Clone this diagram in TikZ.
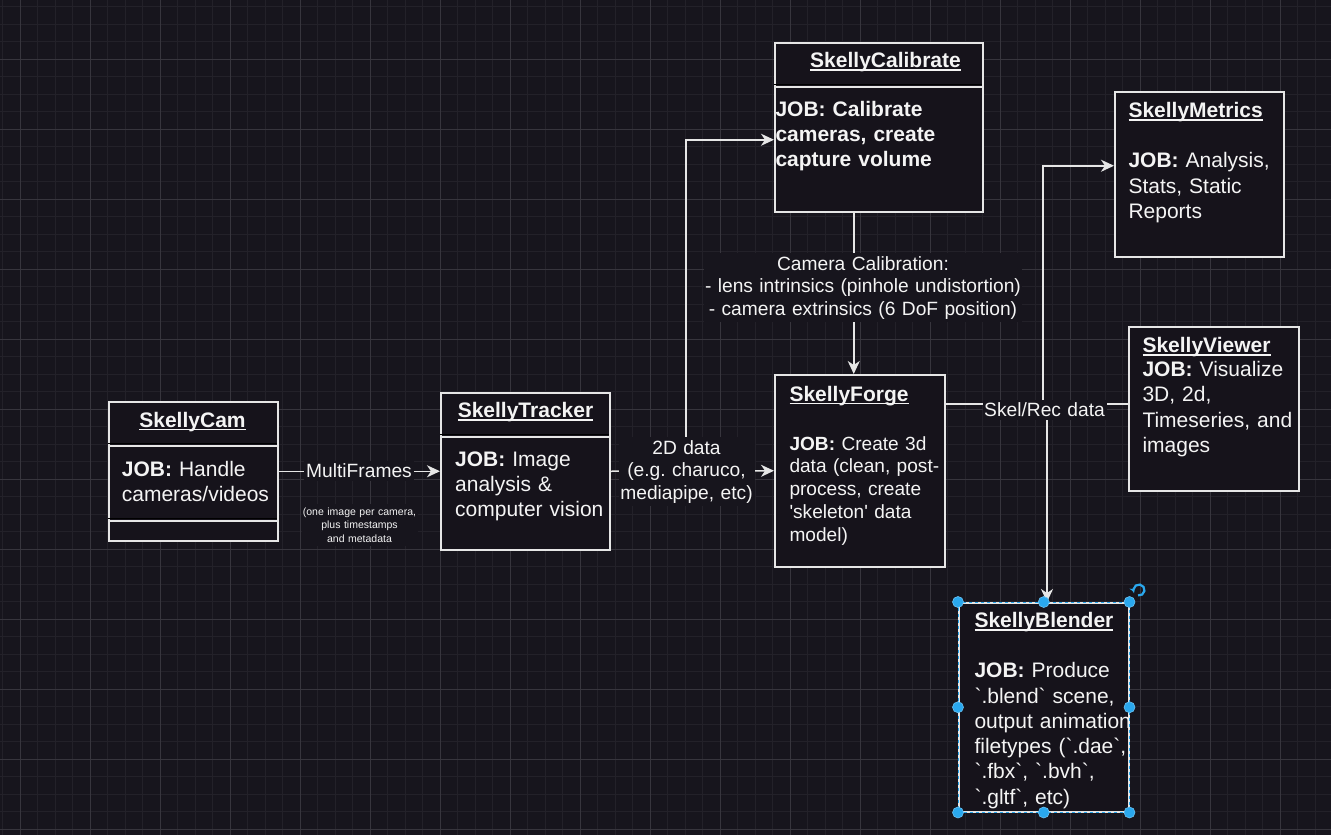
\documentclass[tikz,border=0pt]{standalone}
\usepackage{fontspec}
\setmainfont{Liberation Sans}
\usetikzlibrary{arrows.meta}
\frenchspacing
\definecolor{bgc}{HTML}{17151D}
\definecolor{boxfill}{HTML}{16131B}
\definecolor{gminorc}{HTML}{232129}
\definecolor{gmajorc}{HTML}{37353D}
\definecolor{edgec}{HTML}{E6E6E6}
\definecolor{txtc}{HTML}{F4F4F4}
\definecolor{selc}{HTML}{2AA8EE}
\newsavebox\ulbox
\newcommand\myul[1]{\sbox\ulbox{#1}\rlap{\rule[-3pt]{\wd\ulbox}{1.4pt}}\usebox\ulbox}
\newcommand\gq{\textasciigrave}
\newcommand\sq{\textquotesingle}
\tikzset{
  gminor/.style={draw=gminorc, line width=1pt},
  gmajor/.style={draw=gmajorc, line width=1pt},
  box/.style={draw=edgec, fill=boxfill, line width=1.5pt, anchor=north west, inner sep=0pt},
  divdark/.style={draw=black, line width=1.2pt},
  divlight/.style={draw=edgec, line width=1.5pt},
  conn/.style={draw=edgec, line width=1.5pt, -{Stealth[length=13pt,width=12pt,inset=4pt]}},
  plainline/.style={draw=edgec, line width=1.5pt},
  ttl/.style={font=\bfseries\fontsize{21}{25.3}\selectfont, text=txtc, inner sep=0pt},
  bodytxt/.style={font=\fontsize{21}{25.3}\selectfont, text=txtc, inner sep=0pt, text width=200pt, align=left, anchor=base west},
  forgetxt/.style={font=\fontsize{19.1}{22.9}\selectfont, text=txtc, inner sep=0pt, text width=200pt, align=left, anchor=base west},
  lab/.style={font=\fontsize{19.2}{22.7}\selectfont, text=txtc, fill=bgc, align=center, inner xsep=0pt, inner ysep=3pt, anchor=base},
  notelab/.style={font=\fontsize{10.5}{13.3}\selectfont, text=txtc, fill=bgc, align=center, inner xsep=0pt, inner ysep=4pt, anchor=base},
  handle/.style={fill=selc, draw=selc!70!white, line width=0.6pt},
}
\begin{document}
\begin{tikzpicture}[x=1pt,y=-1pt]
\useasboundingbox (0,0) rectangle (1331,835);
\fill[bgc] (0,0) rectangle (1331,835);
% grid
\foreach \i in {0,...,76} { \draw[gminor] ({2.5+17.5*\i},0) -- ++(0,835); }
\foreach \i in {0,...,47} { \draw[gminor] (0,{6.5+17.5*\i}) -- ++(1331,0); }
\foreach \i in {0,...,18} { \draw[gmajor] ({20+70*\i},0) -- ++(0,835); }
\foreach \i in {0,...,11} { \draw[gmajor] (0,{59+70*\i}) -- ++(1331,0); }

% boxes
\node[box, minimum width=169pt, minimum height=139pt] (cam) at (108,401) {};
\node[box, minimum width=169pt, minimum height=157pt] (tracker) at (440,392) {};
\node[box, minimum width=208pt, minimum height=169pt] (calib) at (774,42) {};
\node[box, minimum width=170pt, minimum height=192pt] (forge) at (774,374) {};
\node[box, minimum width=169pt, minimum height=165pt] (metrics) at (1114,91) {};
\node[box, minimum width=170pt, minimum height=164pt] (viewer) at (1128,326) {};
\node[box, minimum width=170pt, minimum height=209pt] (blender) at (958,602) {};

% dividers
\draw[divdark] (108,443.5) -- (277,443.5);
\draw[divlight] (108,446) -- (277,446);
\draw[divdark] (108,518.3) -- (277,518.3);
\draw[divlight] (108,520.8) -- (277,520.8);
\draw[divdark] (440,434.3) -- (609,434.3);
\draw[divlight] (440,437) -- (609,437);
\draw[divdark] (774,84.3) -- (982,84.3);
\draw[divlight] (774,87) -- (982,87);

% connector junctions
\coordinate (tdj) at (686,470);
\coordinate (ft) at ([xshift=-6pt]forge.north);
\coordinate (sk) at (1045,404);

% connectors
\draw[conn] (cam.east) -- (tracker.west);
\draw[conn] (tracker.east) -- (forge.west);
\draw[conn] (tdj) |- ([yshift=-12.5pt]calib.west);
\draw[conn] (calib.south -| ft) -- (ft);
\draw[plainline] (forge.east |- sk) -- (viewer.west |- sk);
\draw[conn] ([xshift=-2pt]sk) |- ([yshift=8.5pt]metrics.west);
\draw[conn] ([xshift=2pt]sk) -- ([xshift=2pt]sk |- blender.north);

% labels
\node[lab, text width=110pt] (mf) at (359,477.7) {MultiFrames};
\node[notelab, text width=116pt] (mfn) at (359.5,515.5) {(one image per camera,\\plus timestamps\\and metadata};
\node[lab, text width=136pt] (tdata) at (686.5,454) {2D data\\(e.g. charuco,\\mediapipe, etc)};
\node[lab, text width=318pt] (ccal) at (863,270) {Camera Calibration:\\- lens intrinsics (pinhole undistortion)\\- camera extrinsics (6 DoF position)};
\node[lab, text width=124pt] (skl) at (1044.5,416.7) {Skel/Rec data};

% titles
\node[ttl, anchor=base] (camt) at (192.5,427) {\myul{SkellyCam}};
\node[ttl, anchor=base] (trackert) at (525.5,417.7) {\myul{SkellyTracker}};
\node[ttl, anchor=base] (calibt) at (885.5,67.7) {\myul{SkellyCalibrate}};
\node[ttl, anchor=base west] (forget) at (789.3,401) {\myul{SkellyForge}};
\node[ttl, anchor=base west] (metricst) at (1128.3,117.7) {\myul{SkellyMetrics}};
\node[ttl, anchor=base west] (viewert) at (1142.3,352.5) {\myul{SkellyViewer}};
\node[ttl, anchor=base west] (blendert) at (974.3,627.7) {\myul{SkellyBlender}};

% bodies
\node[bodytxt] (camb) at (121.7,476) {\textbf{JOB:} Handle\\cameras/videos};
\node[bodytxt] (trackerb) at (455,466) {\textbf{JOB:} Image\\analysis \&\\computer vision};
\node[bodytxt, font=\bfseries\fontsize{21}{25.3}\selectfont] (calibb) at (775.3,116) {JOB: Calibrate\\cameras, create\\capture volume};
\node[forgetxt] (forgeb) at (789.3,450) {\textbf{JOB:} Create 3d\\data (clean, post-\\process, create\\\sq skeleton\sq{} data\\model)};
\node[bodytxt] (metricsb) at (1128.3,167.7) {\textbf{JOB:} Analysis,\\Stats, Static\\Reports};
\node[bodytxt] (viewerb) at (1142.3,376.5) {\textbf{JOB:} Visualize\\3D, 2d,\\Timeseries, and\\images};
\node[bodytxt] (blenderb) at (974.3,677.7) {\textbf{JOB:} Produce\\\gq.blend\gq{} scene,\\output animation\\filetypes (\gq.dae\gq,\\\gq.fbx\gq, \gq.bvh\gq,\\\gq.gltf\gq, etc)};

% selection of SkellyBlender
\draw[selc, line width=1pt, dash pattern=on 3pt off 3pt] (blender.north west) rectangle (blender.south east);
\foreach \p in {north west, north, north east, west, east, south west, south, south east} {
  \fill[handle] (blender.\p) circle (5.5pt);
}
\draw[selc, line width=2.2pt, -{Stealth[length=4.5pt,width=6pt]}] (1139,590) ++(100:5.5) arc[start angle=100, end angle=-200, radius=5.5];
\end{tikzpicture}
\end{document}
